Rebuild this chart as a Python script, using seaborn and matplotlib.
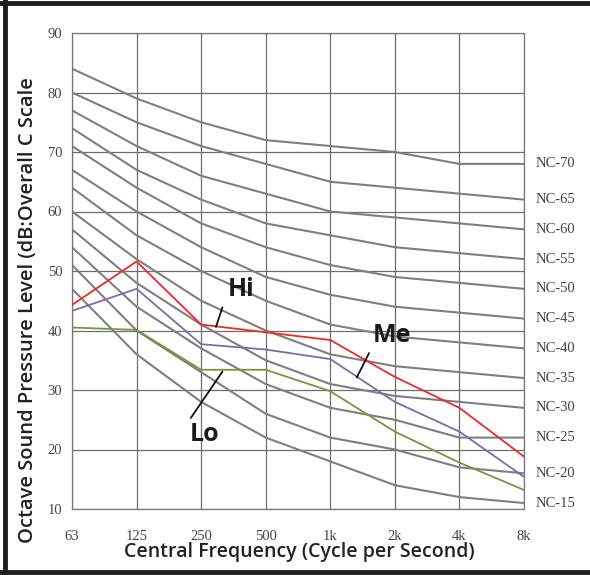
import numpy as np
import pandas as pd
import matplotlib
matplotlib.use("Agg")
import matplotlib.pyplot as plt
import seaborn as sns
from matplotlib.lines import Line2D

# ---- data ----
freqs = ["63", "125", "250", "500", "1k", "2k", "4k", "8k"]
nc_names = ["NC-15", "NC-20", "NC-25", "NC-30", "NC-35", "NC-40",
            "NC-45", "NC-50", "NC-55", "NC-60", "NC-65", "NC-70"]
nc15 = [47, 36, 28, 22, 18, 14, 12, 11]
nc20 = [51, 40, 33, 26, 22, 20, 17, 16]
nc25 = [54, 44, 37, 31, 27, 25, 22, 22]
nc30 = [57, 48, 41, 35, 31, 29, 28, 27]
nc35 = [60, 52, 45, 40, 36, 34, 33, 32]
nc40 = [64, 56, 50, 45, 41, 39, 38, 37]
nc45 = [67, 60, 54, 49, 46, 44, 43, 42]
nc50 = [71, 64, 58, 54, 51, 49, 48, 47]
nc55 = [74, 67, 62, 58, 56, 54, 53, 52]
nc60 = [77, 71, 66, 63, 60, 59, 58, 57]
nc65 = [80, 75, 71, 68, 65, 64, 63, 62]
nc70 = [84, 79, 75, 72, 71, 70, 68, 68]
nc_values = [nc15, nc20, nc25, nc30, nc35, nc40, nc45, nc50, nc55, nc60, nc65, nc70]

hi = [44.3, 51.6, 41.0, 39.7, 38.4, 32.2, 27.0, 18.8]
me = [43.3, 47.0, 37.7, 36.8, 35.2, 28.0, 23.0, 15.4]
lo = [40.5, 40.1, 33.4, 33.4, 29.8, 23.0, 17.8, 13.2]
speed_names = ["Hi", "Me", "Lo"]
speed_colors = ["#ee2a24", "#7b6cab", "#6e9a3c"]

yticks = [10, 20, 30, 40, 50, 60, 70, 80, 90]

# ---- long-form tables ----
xpos = np.arange(len(freqs))
nc_df = pd.DataFrame({
    "x": np.tile(xpos, len(nc_names)),
    "level": np.concatenate(nc_values),
    "curve": np.repeat(nc_names, len(freqs)),
})
sp_df = pd.DataFrame({
    "x": np.tile(xpos, 3),
    "level": np.concatenate([hi, me, lo]),
    "speed": np.repeat(speed_names, len(freqs)),
})

sns.set_theme(style="white")
fig = plt.figure(figsize=(5.9, 5.75), dpi=100)
ax = fig.add_axes([72/590, 66/575, 452/590, 476/575])

# grid
grid_c = "#6e6e6e"
for i in xpos:
    ax.axvline(i, color=grid_c, lw=0.9, zorder=0)
for v in yticks:
    ax.axhline(v, color=grid_c, lw=0.9, zorder=0)

sns.lineplot(data=nc_df, x="x", y="level", hue="curve",
             palette=["#7f7f7f"] * len(nc_names), linewidth=1.5,
             legend=False, ax=ax, zorder=2)
sns.lineplot(data=sp_df, x="x", y="level", hue="speed",
             palette=dict(zip(speed_names, speed_colors)), linewidth=1.3,
             legend=False, ax=ax, zorder=3)

ax.set_xlim(0, len(freqs) - 1)
ax.set_ylim(10, 90)
ax.set_xticks(xpos)
ax.set_xticklabels(freqs)
ax.set_yticks(yticks)
ax.set_yticklabels([str(v) for v in yticks])
ax.tick_params(axis="both", length=0, labelsize=10.5, labelcolor="#444444")
ax.tick_params(axis="x", pad=15)
ax.tick_params(axis="y", pad=7)
for lab in ax.get_xticklabels() + ax.get_yticklabels():
    lab.set_family("Liberation Serif")
for s in ax.spines.values():
    s.set_color("#777777")
    s.set_linewidth(0.9)

# NC labels at curve ends
for name, vals in zip(nc_names, nc_values):
    ax.text(len(freqs) - 1 + 0.18, vals[-1], name, va="center", ha="left",
            fontsize=10.5, family="Liberation Serif", color="#444444",
            clip_on=False)

# annotations
ann = [("Hi", (2.62, 46.9), (2.33, 43.9), (2.23, 40.6)),
       ("Me", (4.95, 39.1), (4.60, 36.2), (4.41, 32.1)),
       ("Lo", (2.06, 22.6), (2.33, 33.1), (1.84, 25.3))]
for txt, tp, p1, p2 in ann:
    ax.text(tp[0], tp[1], txt, ha="center", va="center", fontsize=18,
            fontweight="bold", family="Open Sans", color="#1a1a1a", zorder=5)
    ax.plot([p1[0], p2[0]], [p1[1], p2[1]], color="#111111", lw=1.3, zorder=5)

ax.set_xlabel("Central Frequency (Cycle per Second)", fontsize=14,
              family="Open Sans", fontweight="semibold", color="#222222")
ax.set_ylabel("Octave Sound Pressure Level (dB:Overall C Scale", fontsize=14.5,
              family="Open Sans", fontweight="semibold", color="#222222")
ax.xaxis.set_label_coords(0.504, -0.070)
ax.yaxis.set_label_coords(-0.076, 0.418)

# figure frame (top, left, bottom)
for (x0, y0, x1, y1) in [(0, 1 - 3/575, 1, 1 - 3/575),
                         (5/590, 0, 5/590, 1),
                         (0, 3/575, 1, 3/575)]:
    fig.add_artist(Line2D([x0, x1], [y0, y1], color="#1e1e1e", lw=3.5,
                          transform=fig.transFigure))

fig.savefig("out.png", dpi=100)
